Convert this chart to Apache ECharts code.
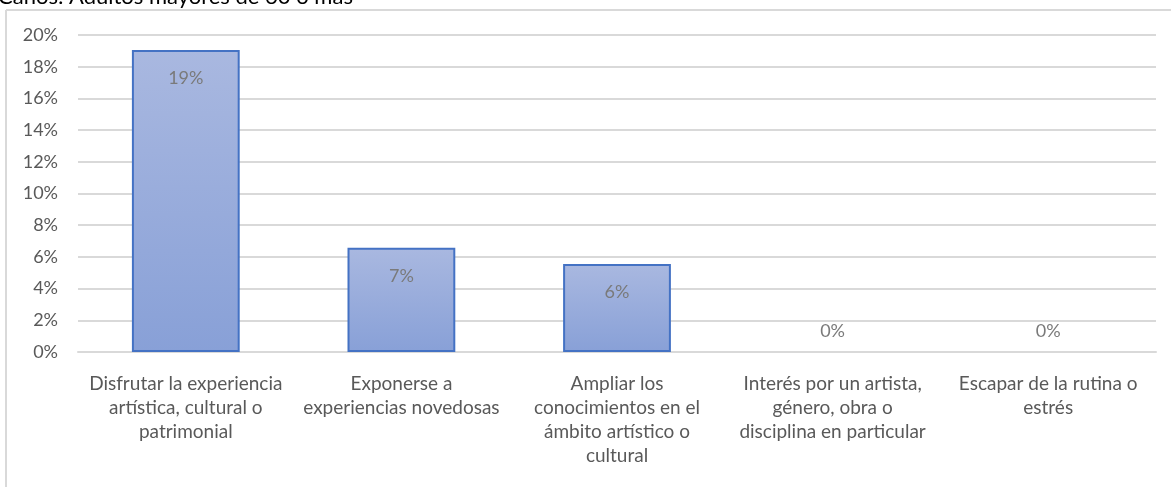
<!DOCTYPE html>
<html>
<head>
<meta charset="utf-8">
<script src="https://cdn.jsdelivr.net/npm/echarts@6/dist/echarts.min.js"></script>
<style>
html,body{margin:0;padding:0;background:#fff;}
#c{width:1171px;height:487px;}
</style>
</head>
<body>
<div id="c"></div>
<script>
var titleText = 'Caños: Adultos mayores de 60 o más';
var categories = [
  'Disfrutar la experiencia\nartística, cultural o\npatrimonial',
  'Exponerse a\nexperiencias novedosas',
  'Ampliar los\nconocimientos en el\námbito artístico o\ncultural',
  'Interés por un artista,\ngénero, obra o\ndisciplina en particular',
  'Escapar de la rutina o\nestrés'
];
var values = [0.1905, 0.0658, 0.0555, 0, 0];
var yMin = 0, yMax = 0.20, yStep = 0.02;

var font = 'Lato, "Open Sans", sans-serif';
var chart = echarts.init(document.getElementById('c'), null, {renderer:'canvas'});
var data = values.map(function(v){
  return v === 0 ? {
    value: v,
    itemStyle: {borderWidth: 0},
    label: {position:'top', distance: 12}
  } : {
    value: v,
    label: {position:'insideTop', distance: 19}
  };
});
chart.setOption({
  animation: false,
  backgroundColor: '#fff',
  graphic: [
    {type:'text', left: -2, top: -14, style:{text: titleText, fill:'#000', font: '22px ' + font}},
    {type:'line', shape:{x1:6, y1:10, x2:1171, y2:10}, style:{stroke:'#d9d9d9', lineWidth:2}},
    {type:'line', shape:{x1:6, y1:10, x2:6, y2:487}, style:{stroke:'#d9d9d9', lineWidth:2}}
  ],
  grid: {left: 78, right: 15, top: 35, bottom: 135, containLabel: false},
  xAxis: {
    type: 'category',
    data: categories,
    axisLine: {show: true, lineStyle: {color: '#d9d9d9', width: 2}},
    axisTick: {show: false},
    axisLabel: {
      interval: 0, color: '#595959', fontFamily: font, fontSize: 19,
      lineHeight: 24, margin: 20, align: 'center'
    }
  },
  yAxis: {
    type: 'value', min: yMin, max: yMax, interval: yStep,
    axisLine: {show: false}, axisTick: {show: false},
    splitLine: {lineStyle: {color: '#d9d9d9', width: 2}},
    axisLabel: {
      color: '#595959', fontFamily: font, fontSize: 18, margin: 20,
      formatter: function(v){ return Math.round(v*100) + '%'; }
    }
  },
  series: [{
    type: 'bar',
    data: data,
    barWidth: '50%',
    itemStyle: {
      color: new echarts.graphic.LinearGradient(0,0,0,1,[
        {offset:0, color:'#a9b8e0'},
        {offset:1, color:'#88a0d7'}
      ]),
      borderColor: '#4472c4',
      borderWidth: 2
    },
    label: {
      show: true, color: '#7a7a7a', fontFamily: font, fontSize: 18,
      formatter: function(p){ return Math.round(p.value*100) + '%'; }
    }
  }]
});
</script>
</body>
</html>
